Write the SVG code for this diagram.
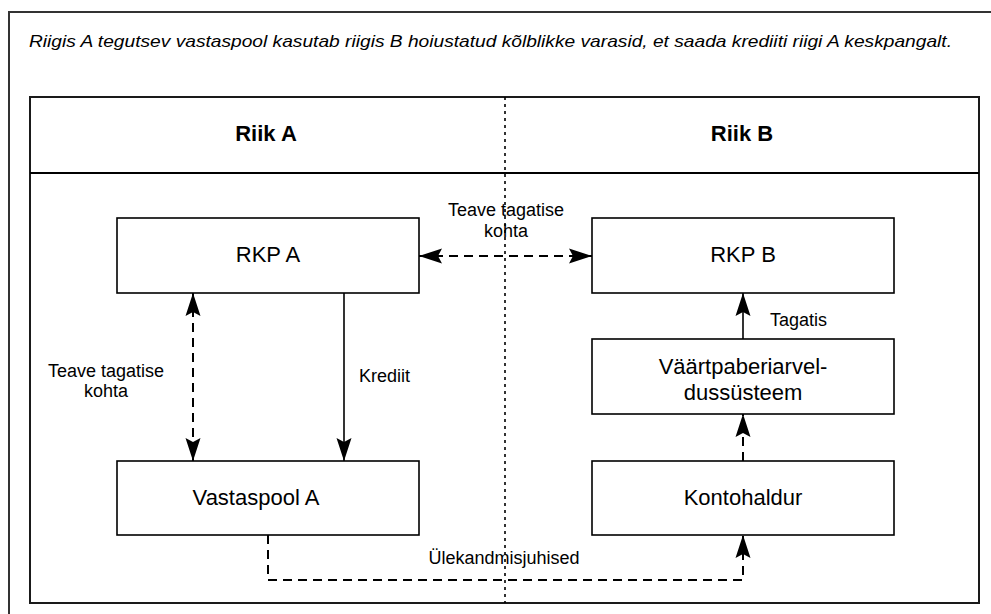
<svg xmlns="http://www.w3.org/2000/svg" width="991" height="614" viewBox="0 0 991 614">
<defs>
<marker id="ah" viewBox="-24 -8 26 16" refX="0" refY="0" markerWidth="26" markerHeight="16" markerUnits="userSpaceOnUse" orient="auto-start-reverse">
<path d="M0,0 L-23,-7.5 L-19,0 L-23,7.5 Z" fill="#000"/>
</marker>
<style>
text{font-family:"Liberation Sans",Arial,sans-serif;fill:#000}
.box{fill:#fff;stroke:#000;stroke-width:1.6}
.nl{font-size:22px;text-anchor:middle}
.el{font-size:18px}
.hd{font-size:22px;font-weight:bold;text-anchor:middle}
.frame{fill:none;stroke:#1a1a1a;stroke-width:2}
.solid{fill:none;stroke:#000;stroke-width:1.6}
.dash{fill:none;stroke:#000;stroke-width:2;stroke-dasharray:9 6}
</style>
</defs>
<rect width="991" height="614" fill="#fff"/>
<g id="outer">
<path d="M9,614 V12 H991" fill="none" stroke="#333" stroke-width="2"/>
<text x="29" y="47" font-size="17" font-style="italic" textLength="923" lengthAdjust="spacingAndGlyphs">Riigis A tegutsev vastaspool kasutab riigis B hoiustatud kõlblikke varasid, et saada krediiti riigi A keskpangalt.</text>
</g>
<g id="table">
<rect class="frame" x="30" y="97" width="949" height="506"/>
<line x1="30" y1="173" x2="979" y2="173" stroke="#000" stroke-width="2"/>
<text class="hd" x="266" y="141">Riik A</text>
<text class="hd" x="742" y="141">Riik B</text>
<line x1="505" y1="97" x2="505" y2="603" stroke="#000" stroke-width="1.6" stroke-dasharray="3 4"/>
</g>
<g id="connectors">
<line class="dash" x1="419" y1="256" x2="592" y2="256" marker-start="url(#ah)" marker-end="url(#ah)"/>
<line class="dash" x1="193" y1="293" x2="193" y2="461" marker-start="url(#ah)" marker-end="url(#ah)"/>
<line class="solid" x1="344" y1="293" x2="344" y2="461" marker-end="url(#ah)"/>
<line class="solid" x1="743" y1="339" x2="743" y2="293" marker-end="url(#ah)"/>
<line class="dash" x1="743" y1="461" x2="743" y2="414" marker-end="url(#ah)"/>
<path class="dash" d="M268,535 V580 H743 V535" marker-end="url(#ah)"/>
<text class="el" x="506" y="216" text-anchor="middle">Teave tagatise</text>
<text class="el" x="506" y="237" text-anchor="middle">kohta</text>
<text class="el" x="106" y="377" text-anchor="middle">Teave tagatise</text>
<text class="el" x="106" y="397" text-anchor="middle">kohta</text>
<text class="el" x="359" y="382">Krediit</text>
<text class="el" x="770" y="326">Tagatis</text>
<text class="el" x="504" y="564" text-anchor="middle">Ülekandmisjuhised</text>
</g>
<g id="rkpA">
<rect class="box" x="117" y="218" width="302" height="75"/>
<text class="nl" x="268" y="262">RKP A</text>
</g>
<g id="rkpB">
<rect class="box" x="592" y="218" width="302" height="75"/>
<text class="nl" x="743" y="262">RKP B</text>
</g>
<g id="vaartpaber">
<rect class="box" x="592" y="339" width="302" height="75"/>
<text class="nl" x="743" y="374">Väärtpaberiarvel-</text>
<text class="nl" x="743" y="400">dussüsteem</text>
</g>
<g id="vastaspoolA">
<rect class="box" x="117" y="461" width="302" height="74"/>
<text class="nl" x="256" y="505">Vastaspool A</text>
</g>
<g id="kontohaldur">
<rect class="box" x="592" y="461" width="302" height="74"/>
<text class="nl" x="743" y="505">Kontohaldur</text>
</g>
</svg>
